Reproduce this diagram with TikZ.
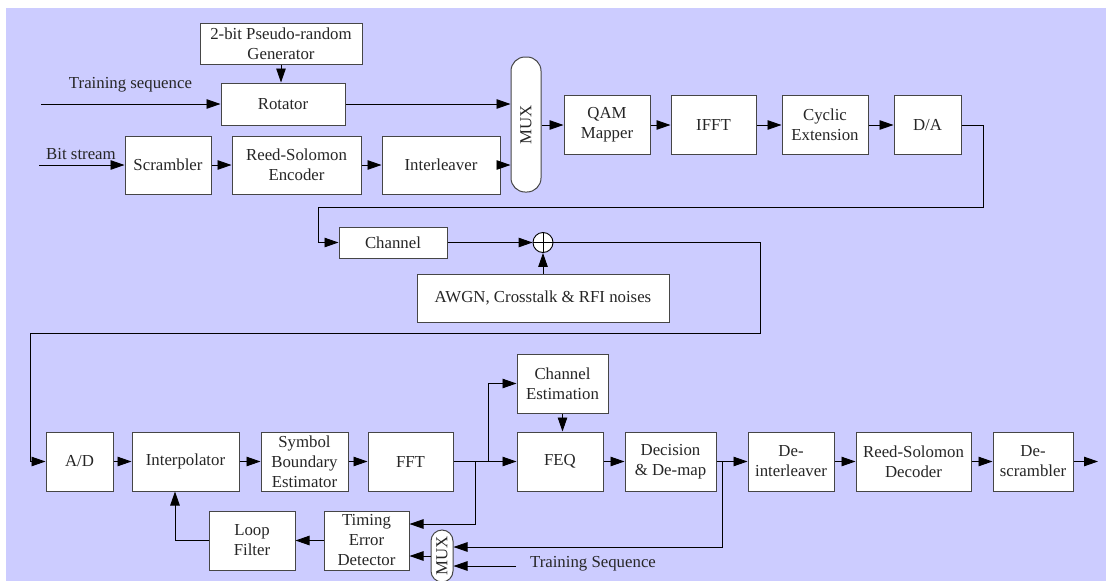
\documentclass[tikz,border=0pt]{standalone}
\usepackage{fontspec}
\setmainfont{Liberation Serif}
\newfontfamily\dfont{Liberation Serif}
\usetikzlibrary{arrows.meta}
\definecolor{lav}{RGB}{204,204,255}
\definecolor{edge}{RGB}{70,70,70}
\begin{document}
\begin{tikzpicture}[x=1pt,y=-1pt,
  txt/.style={font=\dfont\fontsize{16.8}{20}\selectfont, text=black!85},
  blk/.style={txt, draw=edge, line width=1pt, fill=white, inner sep=0pt, align=center},
  bx/.style 2 args={blk, minimum width=#1pt, minimum height=#2pt},
  lbl/.style={txt, inner sep=0pt},
  conn/.style={line width=0.9pt, -{Triangle[length=14pt,width=9.5pt]}},
  wire/.style={line width=0.9pt}]
\useasboundingbox (0,0) rectangle (1106,581);
\fill[white] (0,0) rectangle (1106,581);
\fill[lav] (6,8) rectangle (1106,581);

% ---------- transmitter ----------
\node[bx={162}{41}] (gen) at (281,43.5) {2-bit Pseudo-random\\Generator};
\node[bx={124}{42}] (rot) at (283,104) {Rotator};
\node[blk, rounded corners=14pt, minimum width=30pt, minimum height=135pt] (mux1) at (526,124.5) {};
\node[lbl, rotate=90] (mux1t) at (mux1) {MUX};
\node[bx={86}{58}] (scr) at (168,165) {Scrambler};
\node[bx={129}{58}] (rse) at (296.5,165) {Reed-Solomon\\Encoder};
\node[bx={118}{58}] (intl) at (441,165) {Interleaver};
\node[bx={86}{59}] (qam) at (607,125) {QAM\\Mapper};
\node[bx={85}{59}] (ifft) at (713.5,125) {IFFT};
\node[bx={86}{59}] (cyc) at (825,125) {Cyclic\\Extension};
\node[bx={67}{59}] (da) at (927.5,125) {D/A};

\node[lbl] (tslab) at (130.5,85) {Training sequence};
\node[lbl] (bslab) at (81,154) {Bit stream};
\coordinate (tsin) at (41,104);
\coordinate (bsin) at (39,165);

\draw[conn] (gen.south) -- (gen.south |- rot.north);
\draw[conn] (tsin) -- (rot.west);
\draw[conn] (rot.east) -- (rot.east -| mux1.west);
\draw[conn] (bsin) -- (scr.west);
\draw[conn] (scr) -- (rse);
\draw[conn] (rse) -- (intl);
\draw[conn] (intl.east) -- (intl.east -| mux1.west);
\draw[conn] (mux1.east |- qam.west) -- (qam.west);
\draw[conn] (qam) -- (ifft);
\draw[conn] (ifft) -- (cyc);
\draw[conn] (cyc) -- (da);

% ---------- channel ----------
\node[bx={108}{31}] (chan) at (393,242.5) {Channel};
\node[circle, draw=black, line width=0.9pt, fill=white, minimum size=20pt, inner sep=0pt] (sum) at (543,242.5) {};
\draw[wire] (sum.north) -- (sum.south) (sum.west) -- (sum.east);
\node[bx={252}{48}] (awgn) at (543,298) {AWGN, Crosstalk \& RFI noises};

\coordinate (d1) at (983,125);
\coordinate (d2) at (983,207);
\coordinate (d3) at (318,207);
\coordinate (d4) at (318,242.5);
\draw[conn] (da.east) -- (d1) -- (d2) -- (d3) -- (d4) -- (chan.west);
\draw[conn] (chan.east) -- (sum.west);
\draw[conn] (awgn.north) -- (sum.south);

% ---------- receiver ----------
\node[bx={67}{59}] (ad) at (79.5,461.5) {A/D};
\node[bx={107}{59}] (interp) at (185.5,461.5) {Interpolator};
\node[bx={87}{59}] (sbe) at (304.5,461.5) {Symbol\\Boundary\\Estimator};
\node[bx={85}{59}] (fft) at (410.5,461.5) {FFT};
\node[bx={91}{59}] (chest) at (562.5,383.5) {Channel\\Estimation};
\node[bx={86}{59}] (feq) at (560,461.5) {FEQ};
\node[bx={91}{59}] (dec) at (670.5,461.5) {Decision\\\& De-map};
\node[bx={86}{59}] (deint) at (791,461.5) {De-\\interleaver};
\node[bx={115}{59}] (rsd) at (913.5,461.5) {Reed-Solomon\\Decoder};
\node[bx={80}{59}] (desc) at (1033,461.5) {De-\\scrambler};
\node[bx={86}{59}] (lf) at (252,540.5) {Loop\\Filter};
\node[bx={85}{59}] (ted) at (366.5,540.5) {Timing\\Error\\Detector};
\node[blk, rounded corners=11pt, minimum width=22pt, minimum height=52pt] (mux2) at (442,556) {};
\node[lbl, rotate=90] (mux2t) at (mux2) {MUX};
\node[lbl] (tseqlab) at (593,564) {Training Sequence};

\coordinate (r1) at (760,242.5);
\coordinate (r2) at (760,333);
\coordinate (r3) at (30,333);
\coordinate (r4) at (30,461.5);
\draw[conn] (sum.east) -- (r1) -- (r2) -- (r3) -- (r4) -- (ad.west);
\draw[conn] (ad) -- (interp);
\draw[conn] (interp) -- (sbe);
\draw[conn] (sbe) -- (fft);
\draw[conn] (fft) -- (feq);
\coordinate (bu) at (488,461.5);
\coordinate (bd) at (475,461.5);
\coordinate (bdl) at (475,524);
\draw[conn] (bu) |- (chest.west);
\draw[conn] (bd) -- (bdl) -- (bdl -| ted.east);
\draw[conn] (chest.south) -- (chest.south |- feq.north);
\draw[conn] (feq) -- (dec);
\draw[conn] (dec) -- (deint);
\coordinate (db) at (722,461.5);
\coordinate (dbl) at (722,547);
\draw[conn] (db) -- (dbl) -- (dbl -| mux2.east);
\draw[conn] (deint) -- (rsd);
\draw[conn] (rsd) -- (desc);
\coordinate (out) at (1098,461.5);
\draw[conn] (desc.east) -- (out);
\coordinate (tsq) at (516,566);
\draw[conn] (tsq) -- (tsq -| mux2.east);
\draw[conn] (mux2.west) -- (mux2.west -| ted.east);
\draw[conn] (ted) -- (lf);
\coordinate (lfc) at (175,540.5);
\draw[conn] (lf.west) -- (lfc) -- (lfc |- interp.south);
\end{tikzpicture}
\end{document}
